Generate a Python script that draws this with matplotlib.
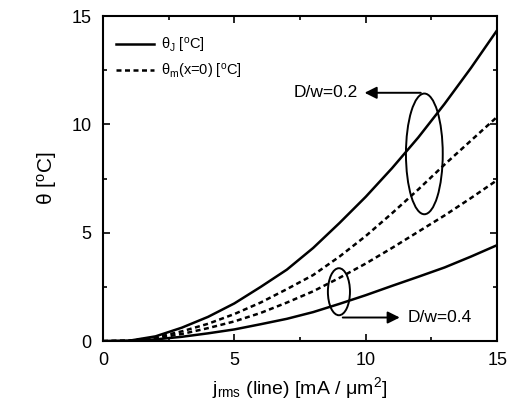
import matplotlib
matplotlib.use('Agg')
import matplotlib.pyplot as plt
from matplotlib.patches import Ellipse

plt.rcParams['font.family'] = ['Liberation Sans', 'DejaVu Sans']
plt.rcParams['mathtext.fontset'] = 'custom'
plt.rcParams['mathtext.rm'] = 'Liberation Sans'
plt.rcParams['mathtext.it'] = 'Liberation Sans:italic'

# current density j_rms (line) [mA/um^2]
j = [0, 1, 2, 3, 4, 5, 6, 7, 8, 9, 10, 11, 12, 13, 14, 15]

# D/w = 0.2
thetaJ_02 = [0, 0.02, 0.22, 0.62, 1.12, 1.74, 2.5, 3.3, 4.3, 5.45, 6.66, 7.98, 9.4, 10.95, 12.6, 14.35]
thetaM_02 = [0, 0.02, 0.17, 0.45, 0.8, 1.25, 1.78, 2.4, 3.05, 3.9, 4.85, 5.9, 7.0, 8.15, 9.25, 10.35]
# D/w = 0.4
thetaM_04 = [0, 0.02, 0.13, 0.33, 0.6, 0.91, 1.3, 1.78, 2.3, 2.92, 3.58, 4.3, 5.05, 5.8, 6.6, 7.43]
thetaJ_04 = [0, 0.01, 0.08, 0.2, 0.36, 0.54, 0.78, 1.03, 1.34, 1.72, 2.12, 2.55, 2.97, 3.4, 3.9, 4.43]

fig = plt.figure(figsize=(5.12, 4.12), dpi=100)
ax = fig.add_axes([0.201, 0.172, 0.770, 0.789])

dash = (0, (2.0, 1.4))
ax.plot(j, thetaJ_02, color='black', lw=1.8, label='θ$_{\\rm J}$ [$^{\\rm o}$C]')
ax.plot(j, thetaM_02, color='black', lw=1.8, ls=dash, label='θ$_{\\rm m}$(x=0) [$^{\\rm o}$C]')
ax.plot(j, thetaM_04, color='black', lw=1.8, ls=dash)
ax.plot(j, thetaJ_04, color='black', lw=1.8)

ax.set_xlim(0, 15)
ax.set_ylim(0, 15)
ax.set_xticks([0, 5, 10, 15])
ax.set_yticks([0, 5, 10, 15])
ax.set_xticks([2.5, 7.5, 12.5], minor=True)
ax.set_yticks([2.5, 7.5, 12.5], minor=True)
ax.tick_params(which='both', direction='in', top=True, right=True, width=1.2)
ax.tick_params(which='major', length=5, labelsize=13, pad=8)
ax.tick_params(which='minor', length=3)
for s in ax.spines.values():
    s.set_linewidth(1.5)

ax.set_xlabel('j$_{\\rm rms}$ (line) [mA / μm$^2$]', fontsize=14)
ax.set_ylabel('θ [$^{\\rm o}$C]', fontsize=15, labelpad=9)

leg = ax.legend(loc='upper left', bbox_to_anchor=(0.0, 0.98), frameon=False,
                fontsize=10.5, handlelength=2.6, handletextpad=0.5, labelspacing=0.5)

# group markers
ax.add_patch(Ellipse((12.23, 8.64), 1.40, 5.57, fill=False, lw=1.4, color='black'))
ax.annotate('', xy=(9.85, 11.46), xytext=(12.2, 11.46),
            arrowprops=dict(arrowstyle='-|>', color='black', lw=1.4, mutation_scale=18))
ax.text(9.7, 11.46, 'D/w=0.2', ha='right', va='center', fontsize=12.5)

ax.add_patch(Ellipse((8.98, 2.28), 0.84, 2.17, fill=False, lw=1.4, color='black'))
ax.annotate('', xy=(11.4, 1.09), xytext=(9.02, 1.09),
            arrowprops=dict(arrowstyle='-|>', color='black', lw=1.4, mutation_scale=18))
ax.text(11.6, 1.09, 'D/w=0.4', ha='left', va='center', fontsize=12.5)

fig.savefig('out.png', dpi=100)
